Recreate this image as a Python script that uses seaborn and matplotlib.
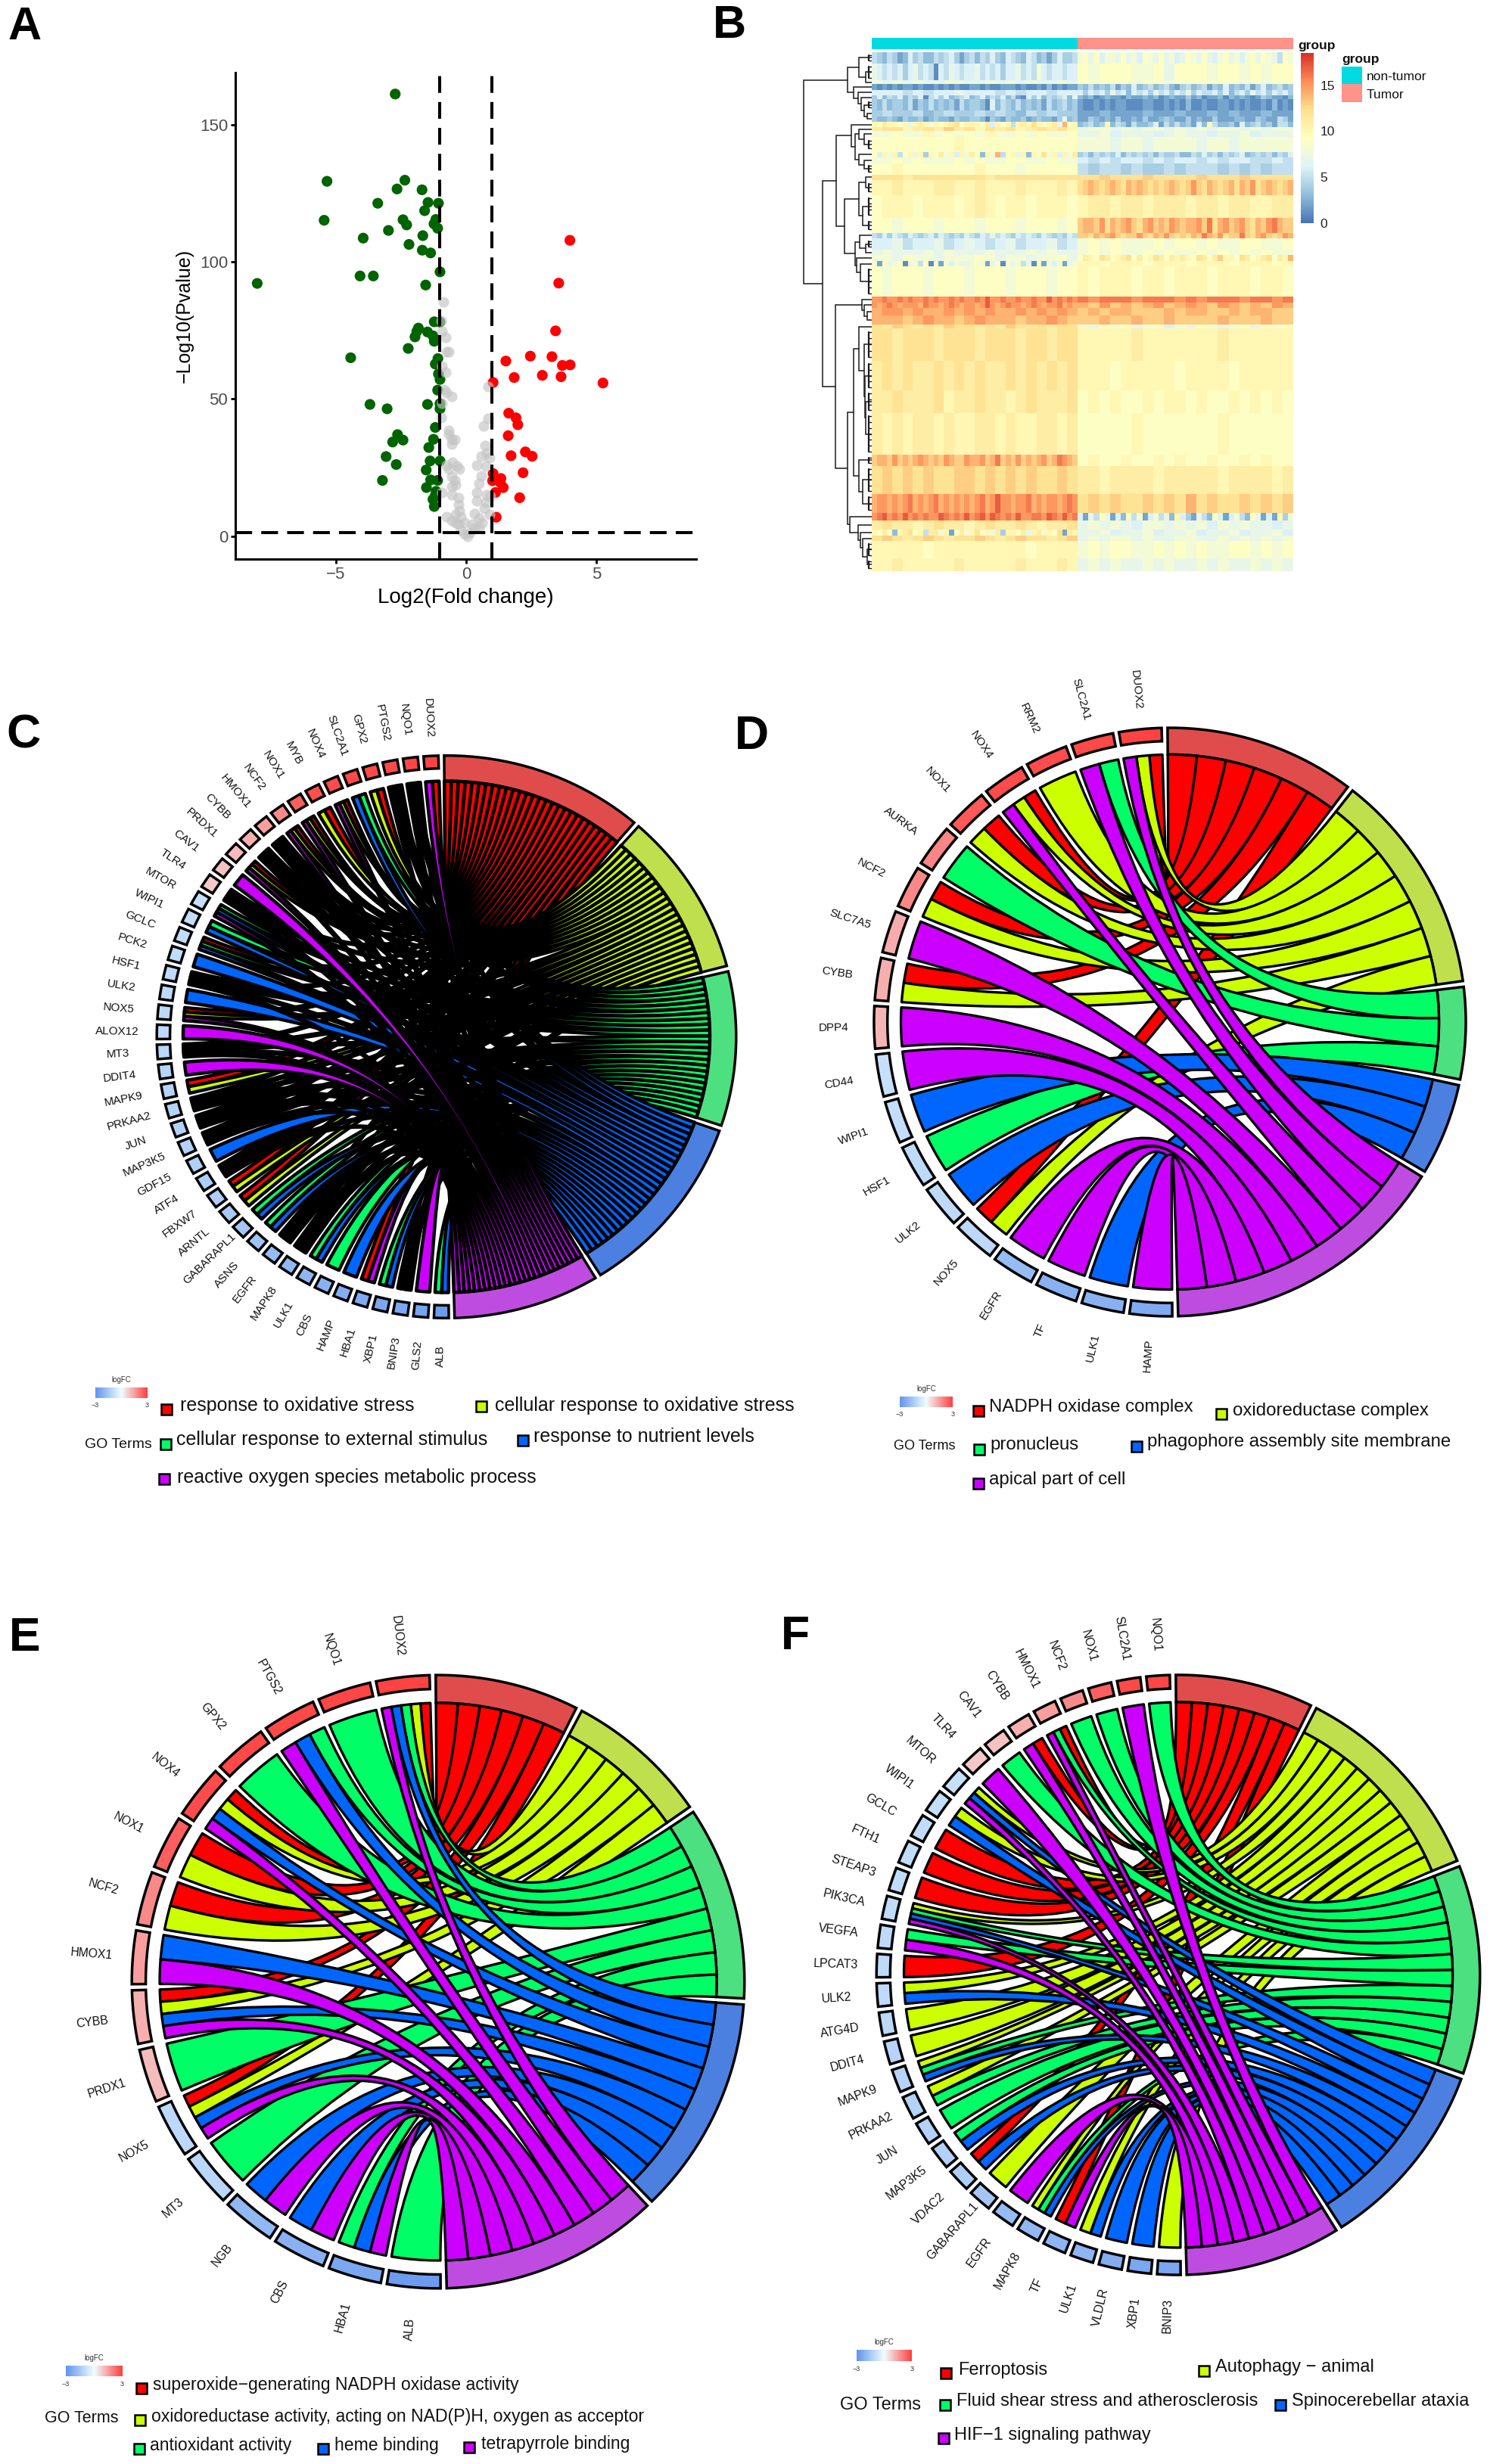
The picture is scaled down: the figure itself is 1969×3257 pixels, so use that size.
"""Six-panel figure: volcano plot, clustered heatmap and four GO chord diagrams."""

import matplotlib
matplotlib.use("Agg")
import matplotlib.pyplot as plt
import numpy as np
import pandas as pd
import seaborn as sns
from matplotlib.patches import PathPatch, Rectangle
from matplotlib.path import Path

W, H = 1969, 3257

# ---- panel A: volcano
green_x = [-2.72, -5.34, -2.35, -2.65, -1.69, -3.39, -1.46, -1.06, -1.59, -5.45, -2.42, -2.28, -1.16, -1.23, -1.09,
           -2.98, -3.95, -1.66, -2.19, -1.68, -1.36, -1.0, -4.07, -3.56, -1.55, -8.02, -1.22, -1.0, -1.83, -1.89,
           -1.48, -1.96, -1.27, -1.22, -2.22, -4.43, -1.08, -1.18, -1.06, -1.0, -1.09, -3.69, -3.03, -1.48, -1.0,
           -1.0, -1.18, -2.63, -2.82, -2.42, -1.25, -1.43, -3.07, -1.38, -1.0, -2.68, -1.53, -1.36, -1.09, -3.21,
           -1.52, -1.15, -1.18, -1.27, -1.22]
green_y = [161.1, 129.3, 129.7, 126.5, 126.2, 121.3, 121.6, 121.3, 118.6, 115.1, 115.3, 113.4, 115.4, 113.8, 112.2,
           111.4, 108.6, 109.5, 106.3, 104.2, 103.2, 96.3, 94.8, 94.8, 91.5, 92.1, 78.1, 78.0, 75.8, 74.6,
           74.4, 72.6, 73.0, 71.0, 68.4, 65.0, 64.7, 62.7, 59.1, 57.1, 53.2, 48.0, 46.4, 48.0, 48.3,
           46.4, 39.6, 37.0, 34.3, 35.0, 35.3, 32.3, 29.0, 27.4, 27.4, 26.1, 24.1, 20.5, 20.3, 20.3,
           17.7, 16.3, 14.8, 13.4, 10.8]
red_x = [3.99, 3.56, 3.44, 2.47, 3.3, 1.53, 3.7, 4.0, 2.93, 1.85, 3.65, 1.04, 5.26, 1.64, 1.92, 1.99, 1.62, 2.28,
         1.73, 2.54, 2.19, 1.04, 1.34, 1.02, 1.32, 1.43, 1.13, 2.06, 1.16]
red_y = [107.8, 92.2, 74.8, 65.6, 65.4, 63.8, 62.2, 62.4, 58.6, 57.8, 58.1, 56.0, 55.8, 44.8, 43.1, 40.6, 36.6, 30.7,
         29.3, 29.1, 23.1, 22.8, 21.0, 20.2, 19.5, 17.7, 15.9, 14.0, 6.9]
gray_x = [-0.86, -0.95, -0.92, -0.79, -0.74, -0.65, -0.92, -0.79, -0.83, -0.74, -0.56, -0.92, -0.95, 0.85, 0.85,
          0.67, -0.67, -0.65, -0.56, -0.42, -0.56, 0.72, 0.79, 0.58, 0.9, 0.41, 0.76, 0.58, -0.51, -0.74, -0.34,
          -0.25, -0.65, -0.56, -0.44, -0.39, -0.56, 0.49, 0.41, -0.92, -0.56, -0.3, 0.41, 0.79, 0.93, 0.76, -0.3,
          -0.25, -0.39, -0.74, -0.56, -0.21, 0.32, 0.71, 0.9, 0.49, -0.04, 0.23, -0.3, 0.49, -0.21, -0.04, 0.14,
          0.05, 0.32, -0.39, 0.62]
gray_y = [85.3, 78.5, 74.5, 72.5, 67.3, 67.3, 62.0, 59.8, 53.3, 52.2, 50.9, 48.3, 43.2, 54.5, 42.9,
          40.2, 38.6, 37.0, 35.3, 35.3, 33.6, 33.1, 30.3, 29.1, 28.5, 25.9, 25.5, 21.9, 26.9, 25.9, 25.5,
          24.5, 24.5, 21.6, 20.2, 18.7, 18.0, 19.2, 15.9, 15.9, 15.1, 14.0, 13.0, 15.1, 14.4, 12.2, 11.5,
          9.4, 7.9, 7.2, 5.8, 7.2, 8.2, 10.1, 7.9, 6.5, 5.0, 4.3, 4.3, 2.9, 2.2, 0.7, 1.4,
          0.0, 2.9, 5.0, 4.8]

# ---- panel B: heatmap, one string per band of rows, one base-36 digit per column
heat_normal = [
    "5435423645335456424535464365436534246445", "7656564675651657656675656466756586566566",
    "87878778877878787787", "2121212212112121211221211222121121312122",
    "66656566766656566566", "4635463546156463456346354635216463545637",
    "4353443524353434253443163543534342534534", "45445345445454354544",
    "4334324334234332433443143243342343324734", "a9baa9a7aba8a9abc9aaa9b6a9a5abaca9ab7e9a",
    "bccabcbdbcacbcabcbca", "88988a89898a88989889",
    "99999999a99999999999", "96a8a59a7a4a9b8a6a8b93a8e59a7a3a9c8a6a8b",
    "88989888989889988988", "99a9999999a999899999",
    "cccbcccccccbcccccccc", "aabaaabbaabaaabaaaba", "9aaa9aaa9aba9aa9aaa9", "99899989998999899989",
    "5464654654564654546546575654656546545465", "66756675676567566756", "78777878777877787877",
    "88798878889878878897", "8297891785919286877898279187857192868278", "98999899989998999899",
    "ffgffgfgffgfgffgfgffgfhffgffgffgffhfgfgf", "fefgfefffegffefgfeffefhfefgffefgfeffgefe",
    "effefeefefefeefefefe", "eeedefeedefeeedeefed", "cbdcbcbdccbcbdcbcbcc", "ccbcccbcccbcccbccbcc",
    "bcbcbbcbcbcbbcbcbcbc", "bbcbbbcabbcbbabcbbbc", "bababbabaabbabaabbab",
    "deedfdedefededfeddfeefdegdedfdedefdegfed", "cdcdcdccddcdcdcdccdc",
    "effefefgefefgefefefefgefhffeffgefeffefgf", "fghfgfhfgfgffhgfgfhfghfhgfgfhffggfhgfhfg",
    "bcbbabcbbabcbbcbabbc", "a9b93abc9a5bb8a29b8ac9a8b4aa9b7ab8a9c2ba", "cdcbcdcbccdcbcdccbcd",
    "aaaaa9aaaaaaaaa9aaaa", "aabaaaaabaaaaabaaaba",
]
heat_tumor = [
    "8979688797869879786798797689786897987598", "98999889799989989899",
    "99999899899999989899", "4353435243634534532453452436343524634534",
    "6465647563656475646574655646356475646564", "3231232213223231232242312231323212432213",
    "2112121221112211212131121122121211213121", "22322232232232322322",
    "2243232422324223432242322422233224322542", "34534a354253346253534263a533426345342553",
    "78878788787878878788", "77867776787767786777",
    "88878878888788788888", "4535454635454535445335464535456345453546",
    "65656656566565665565", "54554544545554545455",
    "ccdcccdccccdcccdcccc", "cdedcdedcededcdcdedcdfdcedcdecedfcdedcde", "abbabbabbbabbabbaabb",
    "deedfcedefdcefdedfedeefdgcefdefdcedfgedd", "ddcedefdcddfdcedfdcdcedgedfcddgdcefdcdfe",
    "89898889899898899889", "89898898988989898988", "9ba9cb9abc9b9acb9baba9cb9bdaa9cb9abc9bae",
    "aa9aaa9aaa9aaa9aaa9a", "a9aaa9aa9aaa9aaa9aa9", "gfgggfgggfgfgggfggfg", "edfdedefdefedfededfe",
    "dedeedddedeeddedeedd", "ddeddeddeddddedddedd", "87989789687987897989", "aaaaabaaaaaaabaaaaaa",
    "aaa9aaaaa9aaaa9aaaaa", "9a9a99a9aa9a99a9a9a9", "99999a9999999a999999", "9a99a99a9a99a99a9a99",
    "bbabbbbabbbbbabbbbab", "cdcdccdcdcecdccdcdcd", "627597263958268573a642753962685397262a48",
    "78787688787868787767", "77867786778677867786", "78788787788778787878", "89899889898988998989",
    "78787787877878778787",
]
band_span = [6, 9, 2, 3, 3, 2, 6, 3, 3, 3, 2, 3, 8, 3, 3, 6, 3, 8, 12, 8, 3, 6, 3, 3, 3, 16, 3, 3, 4, 5, 2, 17, 16,
             12, 22, 6, 15, 10, 4, 5, 3, 3, 9, 7]
heat_colors = ["#4575B4", "#91BFDB", "#E0F3F8", "#FFFFBF", "#FEE090", "#FC8D59", "#D73027"]
# row tree: (merge height in px, left, right), leaves are band indices
tree_a = (32, (17, 0, (8, 1, 2)), (24, 3, (18, 4, (14, 5, (10, 6, (6, 7, 8))))))
tree_b1 = (47, (27, 9, (22, (17, 10, (10, 11, 12)), (17, 13, (10, 14, 15)))),
           (36, (17, (8, 16, 17), (12, 18, 19)), (22, (16, 20, (8, 21, 22)), (20, 23, (15, 24, 25)))))
tree_b2 = (48, (13, 26, (10, 27, (6, 28, 29))),
           (32, (24, (17, 30, (10, 31, (9, 32, (8, 33, 34)))), (17, 35, (12, 36, 37))),
            (29, 38, (18, 39, (15, 40, (12, 41, (6, 42, 43)))))))
row_tree = (90, tree_a, (65, tree_b1, tree_b2))

# ---- panels C-F: chord diagrams, term letters per gene
term_colors = {"r": "#FF0000", "y": "#CCFF00", "g": "#00FF66", "b": "#0066FF", "p": "#CC00FF"}
term_arc_colors = {"r": "#E04C4C", "y": "#BFE04C", "g": "#4CE080", "b": "#4C80E0", "p": "#BF4CE0"}

c_genes = ["DUOX2", "NQO1", "PTGS2", "GPX2", "SLC2A1", "NOX4", "MYB", "NOX1", "NCF2", "HMOX1", "CYBB", "PRDX1", "CAV1",
           "TLR4", "MTOR", "WIPI1", "GCLC", "PCK2", "HSF1", "ULK2", "NOX5", "ALOX12", "MT3", "DDIT4", "MAPK9", "PRKAA2",
           "JUN", "MAP3K5", "GDF15", "ATF4", "FBXW7", "ARNTL", "GABARAPL1", "ASNS", "EGFR", "MAPK8", "ULK1", "CBS",
           "HAMP", "HBA1", "XBP1", "BNIP3", "GLS2", "ALB"]
c_links = ["rp", "rygbp", "rygbp", "ry", "gb", "ryp", "ry", "ryp", "ryp", "rygbp", "rygbp", "ryp", "p",
           "rygbp", "gbp", "gb", "rgb", "b", "rygbp", "b", "ryp", "p", "rygbp", "p", "ry", "rygbp",
           "rygbp", "rygbp", "b", "rygbp", "ry", "ry", "gb", "gb", "rygbp", "rygbp", "gb", "g",
           "b", "rp", "gb", "rygbp", "p", "gb"]
c_lfc = [2.95, 2.9, 2.85, 2.85, 2.85, 2.8, 2.75, 2.5, 1.85, 1.5, 1.25, 1.05, 0.95, 0.85, -0.9, -0.95, -1.0, -1.0, -1.05,
         -1.05, -1.1, -1.1, -1.15, -1.2, -1.2, -1.25, -1.3, -1.3, -1.35, -1.4, -1.4, -1.5, -1.6, -1.7, -1.9, -2.0, -2.1,
         -2.2, -2.3, -2.4, -2.5, -2.5, -2.6, -2.8]
c_term_deg = [42, 35, 33, 39.5, 30.5]

d_genes = ["DUOX2", "SLC2A1", "RRM2", "NOX4", "NOX1", "AURKA", "NCF2", "SLC7A5", "CYBB", "DPP4", "CD44", "WIPI1", "HSF1",
           "ULK2", "NOX5", "EGFR", "TF", "ULK1", "HAMP"]
d_links = ["ryp", "gp", "y", "ryp", "ry", "g", "ry", "p", "ry", "p", "p", "b", "g", "b", "ry", "p", "p", "b", "p"]
d_lfc = [2.95, 2.85, 2.8, 2.8, 2.6, 1.9, 1.85, 1.3, 1.25, 1.15, -0.9, -0.95, -1.05, -1.05, -1.1, -1.9, -2.2, -2.2, -2.4]

e_genes = ["DUOX2", "NQO1", "PTGS2", "GPX2", "NOX4", "NOX1", "NCF2", "HMOX1", "CYBB", "PRDX1", "NOX5", "MT3", "NGB",
           "CBS", "HBA1", "ALB"]
e_links = ["rygbp", "g", "gbp", "g", "rybp", "ry", "ry", "bp", "rybp", "g", "rybp", "g", "bp", "bp", "gbp", "g"]
e_lfc = [2.95, 2.9, 2.85, 2.85, 2.8, 2.5, 1.85, 1.5, 1.25, 1.05, -1.1, -1.15, -2.0, -2.2, -2.5, -2.8]

f_genes = ["NQO1", "SLC2A1", "NOX1", "NCF2", "HMOX1", "CYBB", "CAV1", "TLR4", "MTOR", "WIPI1", "GCLC", "FTH1", "STEAP3",
           "PIK3CA", "VEGFA", "LPCAT3", "ULK2", "ATG4D", "DDIT4", "MAPK9", "PRKAA2", "JUN", "MAP3K5", "VDAC2",
           "GABARAPL1", "EGFR", "MAPK8", "TF", "ULK1", "VLDLR", "XBP1", "BNIP3"]
f_links = ["g", "p", "g", "g", "rgp", "rp", "g", "p", "ybp", "yb", "r", "r", "r", "ygbp", "gp", "r", "yb", "y", "y",
           "ygb", "yg", "g", "gb", "rb", "y", "p", "ygb", "rp", "yb", "b", "b", "y"]
f_lfc = [2.9, 2.85, 2.5, 1.85, 1.5, 1.25, 0.95, 0.85, -0.9, -0.95, -1.0, -1.0, -1.0, -1.0, -1.05, -1.05, -1.05, -1.1,
         -1.2, -1.2, -1.25, -1.3, -1.3, -1.4, -1.6, -1.9, -2.0, -2.1, -2.1, -2.3, -2.5, -2.5]

sns.set_theme(style="ticks")
plt.rcParams["font.family"] = ["Liberation Sans", "DejaVu Sans"]
plt.rcParams["savefig.facecolor"] = "white"

fig = plt.figure(figsize=(W / 100, H / 100), dpi=100, facecolor="white")
lfc_cmap = sns.blend_palette(["#6495ED", "#F0FFFF", "#FF4040"], as_cmap=True)


def axes_px(x0, y0, x1, y1):
    return fig.add_axes([x0 / W, 1 - y1 / H, (x1 - x0) / W, (y1 - y0) / H])


def plot_volcano():
    ax = axes_px(311, 96, 920, 739)
    df = pd.DataFrame({"logfc": green_x + red_x, "logp": green_y + red_y,
                       "group": ["down"] * len(green_x) + ["up"] * len(red_x)})
    sns.scatterplot(data=df, x="logfc", y="logp", hue="group", palette={"down": "#006400", "up": "#FF0000"},
                    s=105, linewidth=0, legend=False, ax=ax)
    sns.scatterplot(x=gray_x, y=gray_y, color="#C4C4C4", alpha=0.65, s=105, linewidth=0, ax=ax)
    for v in (-1, 1):
        ax.axvline(v, color="black", lw=2.9, dashes=(5.5, 3))
    ax.axhline(1.3, color="black", lw=2.9, dashes=(5.5, 3))
    ax.set_xlim(-8.86, 8.84)
    ax.set_ylim(-8.36, 168.9)
    ax.set_xticks([-5, 0, 5])
    ax.set_yticks([0, 50, 100, 150])
    ax.tick_params(length=4, width=2, colors="black", labelcolor="#4D4D4D", labelsize=16, pad=3)
    ax.set_xlabel("Log2(Fold change)", fontsize=20, labelpad=5, color="black")
    ax.set_ylabel("\u2212Log10(Pvalue)", fontsize=18, labelpad=6, color="black")
    sns.despine(ax=ax)
    for side in ("left", "bottom"):
        ax.spines[side].set_linewidth(2.2)
        ax.spines[side].set_color("black")


def draw_tree(node, y_of, lines):
    # returns (height, y) of the node after adding its bracket to lines
    if not isinstance(node, tuple):
        return 0, y_of[node]
    h, left, right = node
    hl, yl = draw_tree(left, y_of, lines)
    hr, yr = draw_tree(right, y_of, lines)
    lines.append(([hl, h, h, hr], [yl, yl, yr, yr]))
    return h, (yl + yr) / 2


def decode_rows(rows):
    # bands were read at different column counts, put them all on one 40-column grid
    grid = []
    for row in rows:
        digits = np.array([int(c, 36) for c in row], dtype=float)
        grid.append(digits[np.arange(40) * len(row) // 40])
    return np.array(grid)


def plot_heatmap():
    heat_cmap = sns.blend_palette(heat_colors, as_cmap=True)
    spans = np.array(band_span)
    ax_cb = axes_px(1719, 70, 1736, 295)
    for k, (rows, box) in enumerate(((heat_normal, (1152, 69, 1424, 755)), (heat_tumor, (1424, 69, 1709, 755)))):
        matrix = np.repeat(decode_rows(rows), spans, axis=0)
        ax = axes_px(*box)
        sns.heatmap(matrix, ax=ax, cmap=heat_cmap, vmin=0, vmax=18.5, xticklabels=False, yticklabels=False,
                    cbar=k == 0, cbar_ax=ax_cb if k == 0 else None)
        if k == 0:
            cbar = ax.collections[0].colorbar
            cbar.set_ticks([0, 5, 10, 15])
            cbar.outline.set_visible(False)
            cbar.ax.tick_params(length=0, labelsize=12.5, pad=6, colors="#222222")

    edges = np.concatenate([[0], np.cumsum(spans)])
    centers = (edges[:-1] + edges[1:]) / 2
    ax_tree = axes_px(1060, 69, 1152, 755)
    ax_tree.set_xlim(92, 0)
    ax_tree.set_ylim(edges[-1], 0)
    ax_tree.axis("off")
    lines = []
    draw_tree(row_tree, centers, lines)
    for xs, ys in lines:
        ax_tree.plot(xs, ys, color="#1A1A1A", lw=1.1, solid_joinstyle="miter")
    # short comb for the rows inside each band
    for top, bottom in zip(edges[:-1], edges[1:]):
        n_rows = int((bottom - top) // 3)
        if n_rows > 1:
            ticks = top + (np.arange(n_rows) + 0.5) * (bottom - top) / n_rows
            ax_tree.plot([4, 4], [ticks[0], ticks[-1]], color="#1A1A1A", lw=1.6)
            for t in ticks:
                ax_tree.plot([0, 4], [t, t], color="#1A1A1A", lw=1.0)


def arc_points(r, a, b, n=24):
    t = np.linspace(a, b, n)
    return np.column_stack([r * np.sin(t), r * np.cos(t)])


def ring_patch(r_in, r_out, a, b, face):
    pts = np.vstack([arc_points(r_out, a, b), arc_points(r_in, b, a)])
    return plt.Polygon(pts, closed=True, facecolor=face, edgecolor="black", lw=2.5, joinstyle="miter")


def ribbon_patch(g1, g2, t1, t2, face, lw):
    # both edges are quadratic curves with the control point in the centre
    gp1, gp2 = arc_points(1, g1, g1, 1)[0], arc_points(1, g2, g2, 1)[0]
    tp1, tp2 = arc_points(1, t1, t2, 12), arc_points(1, g2, g1, 6)
    verts = [gp1, (0, 0), tp1[0]] + list(tp1[1:]) + [(0, 0), gp2] + list(tp2[1:]) + [gp1]
    codes = ([Path.MOVETO, Path.CURVE3, Path.CURVE3] + [Path.LINETO] * (len(tp1) - 1)
             + [Path.CURVE3, Path.CURVE3] + [Path.LINETO] * (len(tp2) - 1) + [Path.CLOSEPOLY])
    return PathPatch(Path(verts, codes), facecolor=face, edgecolor="black", lw=lw, joinstyle="round")


def plot_chord(cx, cy, rx, ry, genes, links, lfc, label_size, term_deg=None, lw=2.4):
    space, tilt = 0.02, 0.008
    ax = axes_px(cx - 1.5 * rx, cy - 1.5 * ry, cx + 1.5 * rx, cy + 1.5 * ry)
    ax.set_xlim(-1.5, 1.5)
    ax.set_ylim(-1.5, 1.5)
    ax.axis("off")

    terms = list(term_colors)
    counts = [sum(t in g for g in links) for t in terms]
    if term_deg is None:
        shares = [np.pi * c / sum(counts) for c in counts]
    else:
        shares = list(np.radians(term_deg))

    # term side: one equal slot per link, genes in list order
    term_slots = {}
    start = 0.0
    for t, share, count in zip(terms, shares, counts):
        end = start + share - space
        ax.add_patch(ring_patch(1.0, 1.1, start - tilt, end - tilt, term_arc_colors[t]))
        term_slots[t] = list(np.linspace(start, end, count + 1))
        start += share

    # gene side: equal sectors, each divided among its links
    n_genes = len(genes)
    gene_slots = {t: [] for t in terms}
    for s, (gene, gene_links, value) in enumerate(zip(genes, links, lfc)):
        g_start = -space - s * np.pi / n_genes
        g_end = g_start - np.pi / n_genes + space
        ax.add_patch(ring_patch(1.05, 1.1, g_start - tilt, g_end - tilt, lfc_cmap((value + 3) / 6)))
        edges = np.linspace(g_start, g_end, len(gene_links) + 1)
        for k, t in enumerate(gene_links):
            gene_slots[t].append((edges[k], edges[k + 1]))
        mid = (g_start + g_end) / 2 - tilt
        ax.text(1.25 * np.sin(mid), 1.25 * np.cos(mid), gene, rotation=-(90 + np.degrees(mid)),
                rotation_mode="anchor", ha="center", va="center", fontsize=label_size, color="#111111")

    for t in terms:
        for k, (g1, g2) in enumerate(gene_slots[t]):
            ax.add_patch(ribbon_patch(g1 - tilt, g2 - tilt, term_slots[t][k] - tilt, term_slots[t][k + 1] - tilt,
                                      term_colors[t], lw))


overlay = fig.add_axes([0, 0, 1, 1], zorder=10)
overlay.set_xlim(0, W)
overlay.set_ylim(H, 0)
overlay.axis("off")
overlay.patch.set_alpha(0)


def label_px(x, y, text, size, **kw):
    kw.setdefault("va", "center")
    kw.setdefault("color", "#111111")
    overlay.text(x, y, text, fontsize=size, **kw)


def legend_key(x, y, t):
    overlay.add_patch(Rectangle((x - 7, y - 7), 14, 14, facecolor=term_colors[t], edgecolor="black", lw=1.8))


def logfc_bar(x0, x1, y0, y1):
    ax = axes_px(x0, y0, x1, y1)
    ax.imshow(np.linspace(-3, 3, 64)[None, :], cmap=lfc_cmap, vmin=-3, vmax=3, aspect="auto")
    ax.axis("off")
    label_px((x0 + x1) / 2, y0 - 10, "logFC", 7, ha="center", color="#333333")
    label_px(x0, y1 + 10, "\u22123", 6.5, ha="center", color="#333333")
    label_px(x1, y1 + 10, "3", 6.5, ha="center", color="#333333")


plot_volcano()
plot_heatmap()
plot_chord(590, 1370.5, 348, 338, c_genes, c_links, c_lfc, 11, c_term_deg, lw=3.2)
plot_chord(1546, 1351, 355.5, 353.6, d_genes, d_links, d_lfc, 11)
plot_chord(579, 2619.5, 368, 368.5, e_genes, e_links, e_lfc, 11.3)
plot_chord(1557, 2610.5, 362.5, 360.5, f_genes, f_links, f_lfc, 11.5)

# panel letters
for letter, x, y, size in [("A", 10, 36, 44), ("B", 942, 34, 44), ("C", 8, 972, 45), ("D", 971, 974, 45),
                           ("E", 12, 2166, 45), ("F", 1032, 2164, 45)]:
    label_px(x, y, letter, size, fontweight="bold", color="black")

# panel B legend
overlay.add_patch(Rectangle((1152, 50), 272, 15, facecolor="#00DAE0", edgecolor="none"))
overlay.add_patch(Rectangle((1424, 50), 285, 15, facecolor="#FF9289", edgecolor="none"))
overlay.add_patch(Rectangle((1773, 88), 27, 23, facecolor="#00DAE0", edgecolor="none"))
overlay.add_patch(Rectangle((1773, 111), 27, 24, facecolor="#FF9289", edgecolor="none"))
label_px(1715, 60, "group", 12.5, fontweight="bold")
label_px(1773, 78, "group", 12.5, fontweight="bold")
label_px(1806, 102, "non-tumor", 12.5)
label_px(1806, 126, "Tumor", 12.5)

# panel C legend
logfc_bar(126, 194, 1834, 1848)
label_px(112, 1909, "GO Terms", 14)
for x, y, t in [(220, 1863, "r"), (636, 1859, "y"), (219, 1909, "g"), (691, 1904, "b"), (217, 1955, "p")]:
    legend_key(x, y, t)
for x, y, s in [(238, 1858, "response to oxidative stress"), (654, 1858, "cellular response to oxidative stress"),
                (233, 1903, "cellular response to external stimulus"), (705, 1899, "response to nutrient levels"),
                (234, 1953, "reactive oxygen species metabolic process")]:
    label_px(x, y, s, 18)

# panel D legend
logfc_bar(1189, 1259, 1846, 1860)
label_px(1181, 1912, "GO Terms", 13)
for x, y, t in [(1293, 1865, "r"), (1614, 1869, "y"), (1294, 1916, "g"), (1502, 1912, "b"), (1293, 1961, "p")]:
    legend_key(x, y, t)
for x, y, s in [(1307, 1860, "NADPH oxidase complex"), (1629, 1865, "oxidoreductase complex"),
                (1308, 1910, "pronucleus"), (1516, 1906, "phagophore assembly site membrane"),
                (1307, 1956, "apical part of cell")]:
    label_px(x, y, s, 17.3)

# panel E legend
logfc_bar(87, 161, 3127, 3141)
label_px(59, 3197, "GO Terms", 15.5)
for x, y, t in [(187, 3157, "r"), (185, 3199, "y"), (184, 3237, "g"), (427, 3237, "b"), (620, 3235, "p")]:
    legend_key(x, y, t)
for x, y, s in [(202, 3153, "superoxide\u2212generating NADPH oxidase activity"),
                (200, 3195, "oxidoreductase activity, acting on NAD(P)H, oxygen as acceptor"),
                (198, 3232, "antioxidant activity"), (442, 3232, "heme binding"),
                (636, 3231, "tetrapyrrole binding")]:
    label_px(x, y, s, 16.6)

# panel F legend
logfc_bar(1132, 1205, 3106, 3121)
label_px(1110, 3179, "GO Terms", 17)
for x, y, t in [(1250, 3137, "r"), (1591, 3134, "y"), (1249, 3179, "g"), (1692, 3179, "b"), (1247, 3223, "p")]:
    legend_key(x, y, t)
for x, y, s in [(1266, 3133, "Ferroptosis"), (1606, 3129, "Autophagy \u2212 animal"),
                (1264, 3174, "Fluid shear stress and atherosclerosis"), (1707, 3174, "Spinocerebellar ataxia"),
                (1261, 3219, "HIF\u22121 signaling pathway")]:
    label_px(x, y, s, 17)

fig.savefig("out.png", dpi=100)
